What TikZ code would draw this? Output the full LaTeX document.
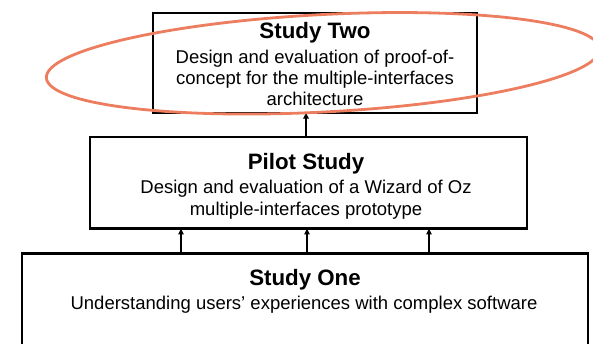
\documentclass[tikz,border=0pt]{standalone}
\usepackage{fontspec}
\setmainfont{Liberation Sans}
\usetikzlibrary{arrows.meta}
\definecolor{coral}{RGB}{237,125,95}
\begin{document}
\begin{tikzpicture}[x=1pt,y=-1pt,
  box/.style={draw=black, line width=2.2pt, fill=white, inner sep=0pt, outer sep=0pt},
  ttl/.style={anchor=base, inner sep=0pt, font=\fontsize{22.3}{26}\selectfont\bfseries},
  bdy/.style={anchor=base, inner sep=0pt, font=\fontsize{18.5}{21}\selectfont},
  arr/.style={line width=1.8pt, -{Triangle[length=6pt,width=5.5pt]}},
  ring/.style={draw=coral, line width=2.8pt}]
\useasboundingbox (0,0) rectangle (593,344);
\clip (0,0) rectangle (593,344);
% boxes
\node[box, minimum width=324.3pt, minimum height=99.4pt] (two) at (314.85,63) {};
\node[box, minimum width=436.7pt, minimum height=91.5pt] (pilot) at (308.35,182.75) {};
\node[box, minimum width=566pt, minimum height=106.5pt] (one) at (305,306.75) {};
% Study Two text
\node[ttl] (t2) at (315,38.3) {Study Two};
\node[bdy] (t2a) at (315,63.3) {Design and evaluation of proof-of-};
\node[bdy] (t2b) at (315,84.3) {concept for the multiple-interfaces};
\node[bdy] (t2c) at (315,105.3) {architecture};
% Pilot text
\node[ttl] (tp) at (306,170) {Pilot Study};
\node[bdy] (tpa) at (306,194) {Design and evaluation of a Wizard of Oz};
\node[bdy] (tpb) at (306,215.5) {multiple-interfaces prototype};
% Study One text
\node[ttl] (t1) at (305,285) {Study One};
\node[bdy] (t1a) at (304,309.3) {Understanding users’ experiences with complex software};
% arrows
\coordinate (ca) at (306,0);
\coordinate (c1) at (181,0);
\coordinate (c2) at (307,0);
\coordinate (c3) at (429,0);
\draw[arr] (pilot.north -| ca) -- (two.south -| ca);
\draw[arr] (one.north -| c1) -- (pilot.south -| c1);
\draw[arr] (one.north -| c2) -- (pilot.south -| c2);
\draw[arr] (one.north -| c3) -- (pilot.south -| c3);
% highlight ellipse
\draw[ring, rotate around={3:(323,63.3)}] (323,63.3) ellipse [x radius=277, y radius=48.7];
\end{tikzpicture}
\end{document}
